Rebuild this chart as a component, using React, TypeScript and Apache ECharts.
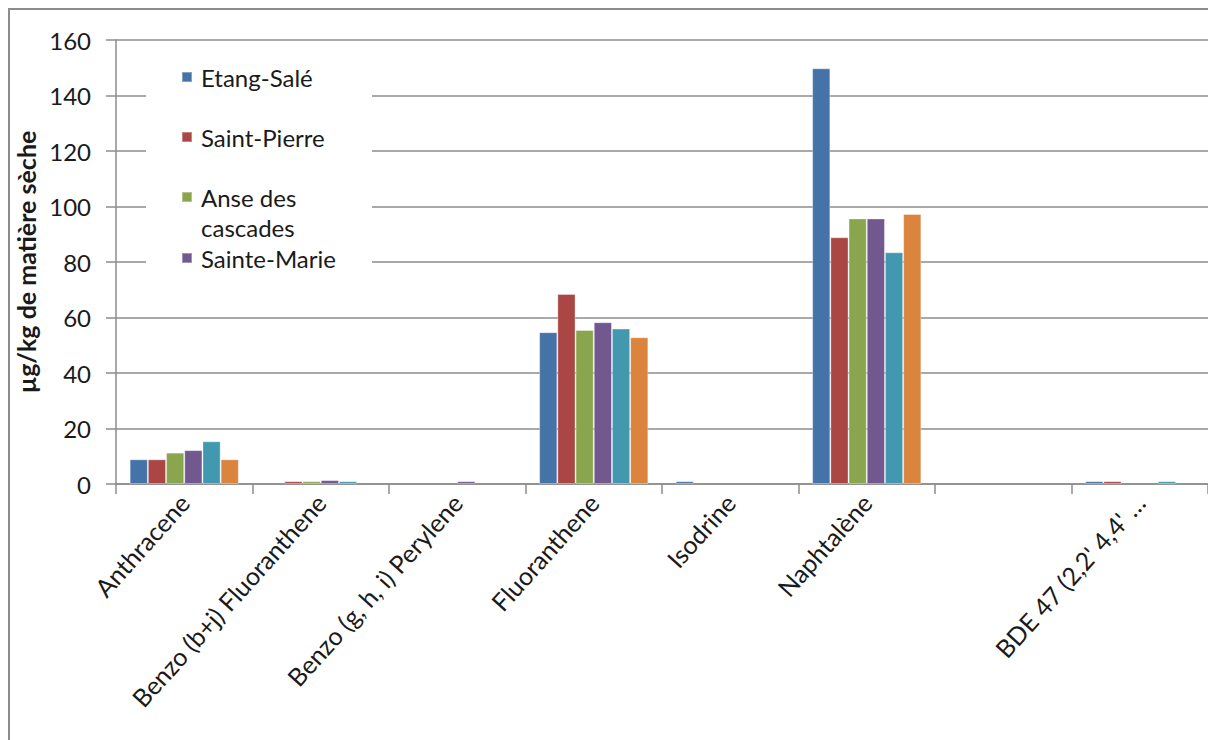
import React, { useEffect, useRef } from "react";
import * as echarts from "echarts";

const categories = [
  "Anthracene",
  "Benzo (b+j) Fluoranthene",
  "Benzo (g, h, i) Perylene",
  "Fluoranthene",
  "Isodrine",
  "Naphtalène",
  "",
  "BDE 47 (2,2' 4,4' …",
];

const seriesNames = ["Etang-Salé", "Saint-Pierre", "Anse des cascades", "Sainte-Marie", "Série 5", "Série 6"];
const colors = ["#4572A7", "#AA4643", "#89A54E", "#71588F", "#4198AF", "#DB843D"];

const etangSale = [8.9, null, null, 54.7, 1.0, 149.8, null, 1.0];
const saintPierre = [8.9, 1.0, null, 68.5, null, 88.9, null, 1.0];
const anseCascades = [11.3, 1.0, null, 55.5, null, 95.7, null, null];
const sainteMarie = [12.2, 1.4, 1.0, 58.3, null, 95.7, null, null];
const serie5 = [15.4, 1.0, null, 56.0, null, 83.5, null, 1.0];
const serie6 = [8.9, null, null, 52.9, null, 97.3, null, null];

const seriesValues = [etangSale, saintPierre, anseCascades, sainteMarie, serie5, serie6];

const yTicks = { min: 0, max: 160, interval: 20 };

const FONT = "Lato";
const GRAY = "#8c8c8c";
const TEXT = "#1a1a1a";

const legendText = {
  fontFamily: FONT,
  fontSize: 24,
  color: TEXT,
  lineHeight: 30,
  padding: [0, 0, 0, 4],
};

function makeLegend(names: string[], top: number, formatter?: (n: string) => string) {
  return {
    data: names,
    orient: "vertical",
    left: 181,
    top,
    padding: 0,
    icon: "rect",
    itemWidth: 10,
    itemHeight: 10,
    itemGap: 30,
    selectedMode: false,
    textStyle: { ...legendText },
    ...(formatter ? { formatter } : {}),
  };
}

export default function App() {
  const ref = useRef<HTMLDivElement>(null);
  useEffect(() => {
    if (!ref.current) return;
    const chart = echarts.init(ref.current, undefined, { renderer: "svg" });
    chart.setOption({
      animation: false,
      color: colors,
      textStyle: { fontFamily: FONT },
      grid: { left: 116, top: 40, right: -4, bottom: 256, containLabel: false },
      graphic: [
        {
          type: "polyline",
          shape: { points: [[9, 760], [9, 9], [1230, 9]] },
          style: { fill: "none", stroke: GRAY, lineWidth: 2 },
          silent: true,
          z: 10,
        },
        {
          type: "rect",
          shape: { x: 146, y: 46, width: 226, height: 240 },
          style: { fill: "#ffffff" },
          silent: true,
          z: 3,
        },
      ],
      legend: [
        makeLegend(["Etang-Salé", "Saint-Pierre"], 62),
        makeLegend(["Anse des cascades"], 152, () => "\nAnse des\ncascades"),
        makeLegend(["Sainte-Marie"], 243),
      ],
      xAxis: {
        type: "category",
        data: categories,
        boundaryGap: true,
        axisLine: { show: true, lineStyle: { color: GRAY, width: 1.5 } },
        axisTick: { show: true, length: 10, alignWithLabel: false, lineStyle: { color: GRAY, width: 1.5 } },
        axisLabel: {
          interval: 0,
          rotate: 48,
          margin: 14,
          fontFamily: FONT,
          fontSize: 25,
          color: TEXT,
        },
        splitLine: { show: false },
      },
      yAxis: {
        type: "value",
        min: yTicks.min,
        max: yTicks.max,
        interval: yTicks.interval,
        name: "µg/kg de matière sèche",
        nameLocation: "middle",
        nameGap: 73,
        nameTextStyle: { fontFamily: FONT, fontSize: 25, fontWeight: "bold", color: TEXT },
        axisLine: { show: true, lineStyle: { color: GRAY, width: 1.5 } },
        axisTick: { show: true, length: 10, inside: false, lineStyle: { color: GRAY, width: 1.5 } },
        axisLabel: { margin: 25, fontFamily: FONT, fontSize: 24, color: TEXT },
        splitLine: { show: true, lineStyle: { color: GRAY, width: 1.5 } },
      },
      series: seriesNames.map((name, i) => ({
        name,
        type: "bar",
        data: seriesValues[i],
        barGap: "0%",
        barCategoryGap: "20%",
        itemStyle: { color: colors[i], borderColor: "rgba(255,255,255,0.35)", borderWidth: 1 },
      })),
    });
    return () => chart.dispose();
  }, []);
  return (
    <div
      ref={ref}
      style={{ position: "absolute", left: 0, top: 0, width: 1208, height: 740, background: "#ffffff" }}
    />
  );
}
